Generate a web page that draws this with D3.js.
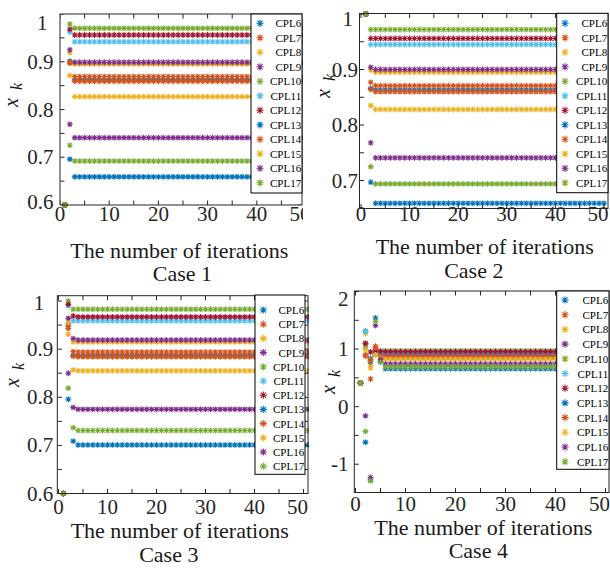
<!DOCTYPE html>
<html>
<head>
<meta charset="utf-8">
<script src="https://cdn.jsdelivr.net/npm/d3@7"></script>
<style>
    body { margin: 0; background: #fff; }
    svg { display: block; font-family: "Liberation Serif", "Times New Roman", serif; }
</style>
</head>
<body>
<div id="chart"></div>
<script>
const width = 610
const height = 572

const seriesNames = ['CPL6', 'CPL7', 'CPL8', 'CPL9', 'CPL10', 'CPL11', 'CPL12', 'CPL13', 'CPL14', 'CPL15', 'CPL16', 'CPL17']
const seriesColors = ['#0072BD', '#D95319', '#EDB120', '#7E2F8E', '#77AC30', '#4DBEEE', '#A2142F',
    '#0072BD', '#D95319', '#EDB120', '#7E2F8E', '#77AC30']
const iterations = 51
const xTicks = [0, 10, 20, 30, 40, 50]

// Case 1 : first iterations, then the value every CPL settles on
const case1Iter1 = [0.6, 0.6, 0.6, 0.6, 0.6, 0.6, 0.6, 0.6, 0.6, 0.6, 0.6, 0.6]
const case1Iter2 = [0.901, 0.899, 0.919, 0.925, 0.979, 0.962, 0.968, 0.696, 0.897, 0.871, 0.769, 0.725]
const case1Final = [0.862, 0.869, 0.895, 0.899, 0.970, 0.942, 0.956, 0.659, 0.859, 0.827, 0.741, 0.692]
const case1YTicks = [0.6, 0.7, 0.8, 0.9, 1]

// Case 2
const case2Iter1 = [1, 1, 1, 1, 1, 1, 1, 1, 1, 1, 1, 1]
const case2Iter2 = [0.866, 0.877, 0.899, 0.904, 0.972, 0.945, 0.956, 0.697, 0.864, 0.835, 0.768, 0.725]
const case2Final = [0.863, 0.871, 0.895, 0.900, 0.972, 0.945, 0.956, 0.659, 0.860, 0.828, 0.741, 0.694]
const case2YTicks = [0.7, 0.8, 0.9, 1]

// Case 3
const case3Iter1 = [0.6, 0.6, 0.6, 0.6, 0.6, 0.6, 0.6, 0.6, 0.6, 0.6, 0.6, 0.6]
const case3Iter2 = [0.952, 0.947, 0.955, 0.964, 1.0, 0.990, 0.993, 0.796, 0.943, 0.931, 0.850, 0.819]
const case3Iter3 = [0.887, 0.895, 0.915, 0.922, 0.983, 0.959, 0.969, 0.709, 0.885, 0.857, 0.779, 0.737]
const case3Final = [0.887, 0.894, 0.915, 0.919, 0.983, 0.959, 0.967, 0.701, 0.884, 0.855, 0.775, 0.731]
const case3YTicks = [0.6, 0.7, 0.8, 0.9, 1]

// Case 4
const case4Iter1 = [0.41, 0.41, 0.41, 0.41, 0.41, 0.41, 0.41, 0.41, 0.41, 0.41, 0.41, 0.41]
const case4Iter2 = [1.31, 0.90, 1.27, 1.09, 1.03, 1.30, 1.10, -0.62, 0.88, 0.99, -0.16, -0.43]
const case4Iter3 = [0.84, 0.48, 0.72, 0.78, 0.80, 0.85, 0.95, -1.27, 0.82, 0.67, -1.23, -1.29]
const case4Iter4 = [0.95, 1.05, 0.92, 0.93, 0.90, 0.95, 0.97, 1.54, 1.02, 0.90, 1.41, 1.48]
const case4Iter5 = [0.87, 0.88, 0.90, 0.91, 0.97, 0.95, 0.96, 0.79, 0.87, 0.84, 0.82, 0.77]
const case4Final = [0.862, 0.869, 0.895, 0.899, 0.970, 0.942, 0.956, 0.659, 0.859, 0.827, 0.741, 0.692]
const case4YTicks = [-1, 0, 1, 2]

const panels = [
    {
        id: 1, early: [case1Iter1, case1Iter2], final: case1Final, yTicks: case1YTicks,
        yDom: [0.6, 1], minor: 0.05, xPx: [60, 306], yPx: [205, 14],
        frame: { l: 60, t: 14, r: 302, b: 205 }, clipR: 303,
        xLabOff: 15.5, yLabX: 53.5, topShift: [-6, 8.5], botShift: [0, -3],
        legend: { l: 251, t: 14, r: 302, b: 193, y0: 23.3, dy: 14.5, mx: 260 },
        xTitle: [179.3, 258], caseTitle: [182.5, 281, 'Case 1'], yTitle: [17.5, 95]
    },
    {
        id: 2, early: [case2Iter1, case2Iter2], final: case2Final, yTicks: case2YTicks,
        yDom: [0.65, 1], minor: 0.05, xPx: [361, 604], yPx: [208.3, 14],
        frame: { l: 359.5, t: 13.5, r: 608, b: 208.5 }, clipR: null,
        xLabOff: 12.5, yLabX: 358, topShift: [-5, 4.5], botShift: [0, 0],
        legend: { l: 556.7, t: 13.3, r: 608, b: 192.7, y0: 23.3, dy: 14.5, mx: 565 },
        xTitle: [484.7, 254], caseTitle: [473.8, 278.3, 'Case 2'], yTitle: [330, 86]
    },
    {
        id: 3, early: [case3Iter1, case3Iter2, case3Iter3], final: case3Final, yTicks: case3YTicks,
        yDom: [0.6, 1], minor: 0.05, xPx: [58.5, 303.5], yPx: [493.6, 301],
        frame: { l: 57.3, t: 295.7, r: 308, b: 493.5 }, clipR: 309,
        xLabOff: 20, yLabX: 53.3, topShift: [-9, 2], botShift: [0, 0],
        legend: { l: 255, t: 295, r: 305, b: 474.3, y0: 310, dy: 14.2, mx: 263.3 },
        xTitle: [179.7, 538.3], caseTitle: [168.8, 561.7, 'Case 3'], yTitle: [19, 375]
    },
    {
        id: 4, early: [case4Iter1, case4Iter2, case4Iter3, case4Iter4, case4Iter5], final: case4Final, yTicks: case4YTicks,
        yDom: [-1.5, 2], minor: 0.5, xPx: [355.5, 605.5], yPx: [493, 291.5],
        frame: { l: 354.3, t: 291, r: 609, b: 492.5 }, clipR: null,
        xLabOff: 18.8, yLabX: 348.5, topShift: [0, 7], botShift: [0, 0],
        legend: { l: 556.7, t: 291, r: 609, b: 469.3, y0: 300, dy: 14.7, mx: 565 },
        xTitle: [483.3, 535], caseTitle: [478.3, 557.7, 'Case 4'], yTitle: [335, 382]
    }
]

const axisColor = '#262626'

function star(r) {
    const a = r * 0.72
    return `M${-r},0H${r}M0,${-r}V${r}M${-a},${-a}L${a},${a}M${-a},${a}L${a},${-a}`
}

function buildSeries(early, final) {
    return seriesNames.map((name, j) => {
        let vals = early.map(row => row[j])
        while (vals.length < iterations) vals.push(final[j])
        return vals
    })
}

const svg = d3.select('#chart').append('svg')
    .attr('width', width)
    .attr('height', height)

const defs = svg.append('defs')

function drawPanel(p) {
    const f = p.frame
    const x = d3.scaleLinear().domain([0, 50]).range(p.xPx)
    const y = d3.scaleLinear().domain(p.yDom).range(p.yPx)

    defs.append('clipPath').attr('id', 'frame' + p.id)
        .append('rect').attr('x', f.l).attr('y', f.t).attr('width', f.r - f.l).attr('height', f.b - f.t)

    let g = svg.append('g')
    if (p.clipR) {
        defs.append('clipPath').attr('id', 'panel' + p.id)
            .append('rect').attr('x', 0).attr('y', f.t - 30).attr('width', p.clipR).attr('height', height)
        g.attr('clip-path', `url(#panel${p.id})`)
    }

    //draw the points, one series after another (markers on the edge stay whole)
    const series = buildSeries(p.early, p.final)
    const pts = g.append('g')
    series.forEach((vals, j) => {
        let shown = vals.map((v, i) => ({ it: i + 1, v: v }))
            .filter(d => x(d.it) <= f.r + 0.5)
        pts.append('g').selectAll('path')
            .data(shown)
            .enter().append('path')
            .attr('d', star(2.9))
            .attr('transform', d => `translate(${x(d.it)},${y(d.v)})`)
            .attr('fill', 'none')
            .attr('stroke', seriesColors[j])
            .attr('stroke-width', 1.1)
    })

    //ticks on all four sides, pointing inward
    const tl = 4.5
    const ticks = g.append('g').attr('stroke', axisColor).attr('stroke-width', 1)
        .attr('clip-path', `url(#frame${p.id})`)
    const xMinor = d3.range(0, 51, 5)
    ticks.selectAll('.xb').data(xMinor).enter().append('line')
        .attr('x1', d => x(d)).attr('x2', d => x(d)).attr('y1', f.b).attr('y2', f.b - tl)
    ticks.selectAll('.xt').data(xMinor).enter().append('line')
        .attr('x1', d => x(d)).attr('x2', d => x(d)).attr('y1', f.t).attr('y2', f.t + tl)
    const yMinor = d3.range(Math.round((p.yDom[1] - p.yDom[0]) / p.minor) + 1)
        .map(i => p.yDom[0] + i * p.minor)
    ticks.selectAll('.yl').data(yMinor).enter().append('line')
        .attr('x1', f.l).attr('x2', f.l + tl).attr('y1', d => y(d)).attr('y2', d => y(d))
    ticks.selectAll('.yr').data(yMinor).enter().append('line')
        .attr('x1', f.r).attr('x2', f.r - tl).attr('y1', d => y(d)).attr('y2', d => y(d))

    //frame
    g.append('rect')
        .attr('x', f.l).attr('y', f.t).attr('width', f.r - f.l).attr('height', f.b - f.t)
        .attr('fill', 'none').attr('stroke', axisColor).attr('stroke-width', 1)

    //tick labels (the last one sits a little to the left, as in the figure)
    g.append('g').selectAll('text')
        .data(xTicks)
        .enter().append('text')
        .attr('x', d => x(d) - (d == 50 ? 6 : 0))
        .attr('y', f.b + p.xLabOff)
        .attr('text-anchor', 'middle')
        .attr('font-size', 21)
        .attr('fill', axisColor)
        .text(d => d)

    const yMax = d3.max(p.yTicks), yMin = d3.min(p.yTicks)
    g.append('g').selectAll('text')
        .data(p.yTicks)
        .enter().append('text')
        .attr('x', d => p.yLabX + (d == yMax ? p.topShift[0] : 0))
        .attr('y', d => y(d) + 7 + (d == yMax ? p.topShift[1] : 0) + (d == yMin ? p.botShift[1] : 0))
        .attr('text-anchor', 'end')
        .attr('font-size', 21)
        .attr('fill', axisColor)
        .text(d => String(d))

    //legend
    const lg = p.legend
    const leg = g.append('g')
    leg.append('rect')
        .attr('x', lg.l).attr('y', lg.t).attr('width', lg.r - lg.l).attr('height', lg.b - lg.t)
        .attr('fill', '#fff').attr('stroke', '#000').attr('stroke-width', 1)
    const rows = leg.selectAll('.row')
        .data(seriesNames)
        .enter().append('g')
        .attr('transform', (d, i) => `translate(0,${lg.y0 + i * lg.dy})`)
    rows.append('path')
        .attr('d', star(3.6))
        .attr('transform', `translate(${lg.mx},0)`)
        .attr('fill', 'none')
        .attr('stroke', (d, i) => seriesColors[i])
        .attr('stroke-width', 1.1)
    rows.append('text')
        .attr('x', lg.r - 0.8)
        .attr('y', 4)
        .attr('text-anchor', 'end')
        .attr('font-size', 11)
        .attr('fill', '#000')
        .text(d => d)

    //titles
    g.append('text')
        .attr('x', p.xTitle[0]).attr('y', p.xTitle[1])
        .attr('text-anchor', 'middle').attr('font-size', 22).attr('fill', '#1a1a1a')
        .text('The number of iterations')
    g.append('text')
        .attr('x', p.caseTitle[0]).attr('y', p.caseTitle[1])
        .attr('text-anchor', 'middle').attr('font-size', 22).attr('fill', '#1a1a1a')
        .text(p.caseTitle[2])

    let yt = g.append('text')
        .attr('transform', `translate(${p.yTitle[0]},${p.yTitle[1]}) rotate(-90)`)
        .attr('text-anchor', 'middle')
        .attr('fill', '#1a1a1a')
        .attr('font-style', 'italic')
    yt.append('tspan').attr('font-size', 20).text('x')
    yt.append('tspan').attr('font-size', 16).attr('dx', 8).attr('dy', 4.5).text('k')
}

panels.forEach(p => drawPanel(p))
</script>
</body>
</html>
